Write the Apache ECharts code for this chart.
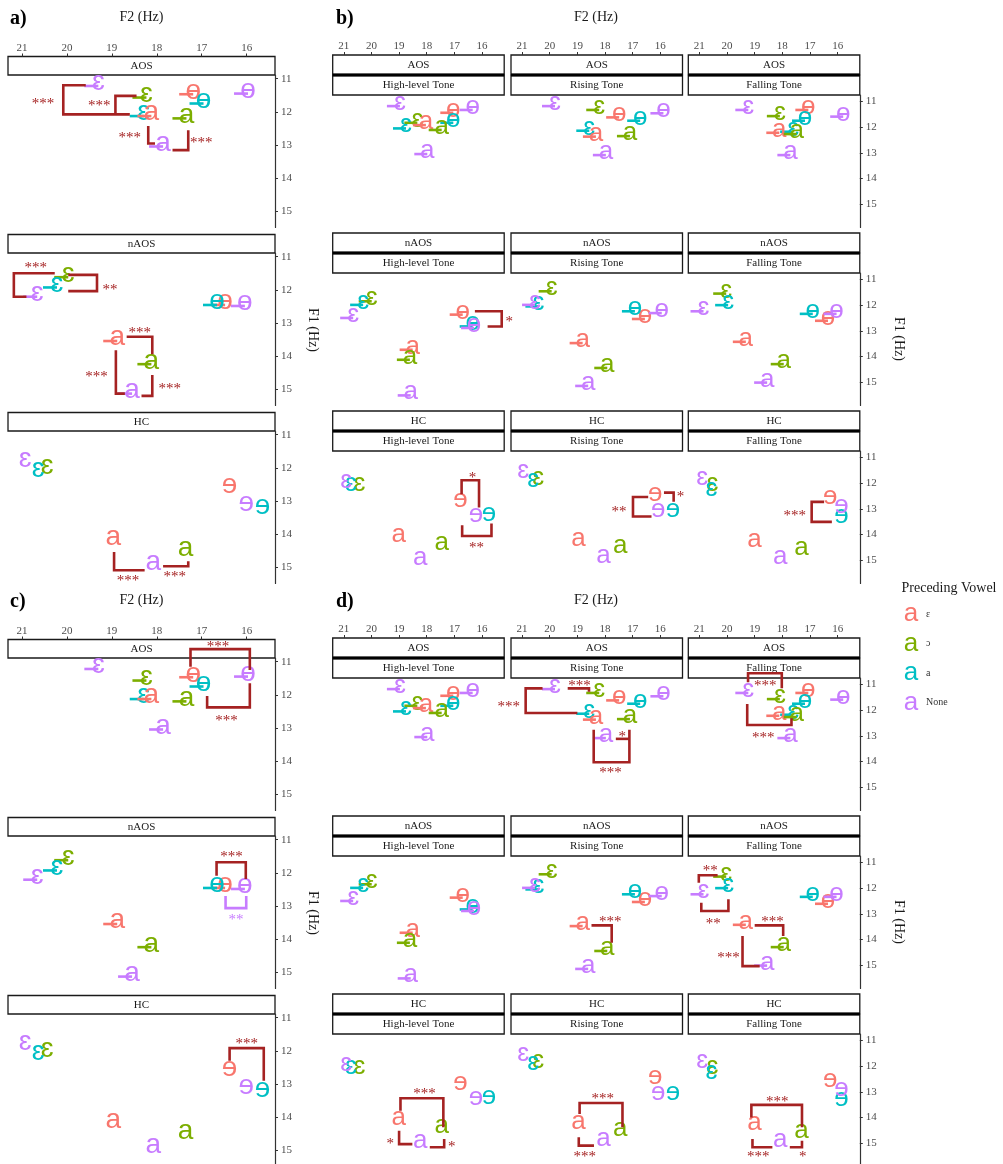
<!DOCTYPE html>
<html><head><meta charset="utf-8">
<script src="https://cdn.jsdelivr.net/npm/echarts@6/dist/echarts.min.js"></script>
<style>html,body{margin:0;padding:0;background:#fff}#c{width:1003px;height:1164px}</style>
</head><body><div id="c"></div>
<script>
// ---------- categories ----------
const precedingVowels = ['ɛ', 'ɔ', 'a', 'None'];
const precedingColors = ['#F8766D', '#7CAE00', '#00BFC4', '#C77CFF'];
const targetVowels = ['ɛ', 'ɵ', 'a'];          // AOS / nAOS labels
const targetVowelsHC = ['ɛ', 'ɘ', 'a'];        // HC labels
const groups = ['AOS', 'nAOS', 'HC'];
const tones = ['High-level Tone', 'Rising Tone', 'Falling Tone'];
// point order: target vowel index / preceding vowel index
const pointTarget = [0, 0, 0, 1, 1, 1, 2, 2, 2];
const pointPreceding = [1, 2, 3, 0, 2, 3, 0, 1, 3];
const f2Ticks = [16, 17, 18, 19, 20, 21];
const f1Ticks = [11, 12, 13, 14, 15];

// ---------- pooled means (panels a, c) ----------
const pooledAOS_F2  = [18.23, 18.29, 19.30, 17.19, 16.96, 15.97, 18.12, 17.34, 17.86];
const pooledAOS_F1  = [11.57, 12.13, 11.22, 11.47, 11.75, 11.45, 12.13, 12.20, 13.05];
const pooledNAOS_F2 = [19.97, 20.22, 20.66, 16.48, 16.66, 16.04, 18.88, 18.12, 18.55];
const pooledNAOS_F1 = [11.62, 11.93, 12.21, 12.46, 12.46, 12.49, 13.55, 14.25, 15.14];
const pooledHC_F2   = [20.44, 20.64, 20.93, 16.38, 15.65, 16.01, 18.97, 17.36, 18.08];
const pooledHC_F1   = [12.06, 12.15, 11.86, 12.62, 13.28, 13.18, 14.21, 14.55, 14.95];

// ---------- by tone (panels b, d) ----------
const aosHigh_F2     = [18.34, 18.75, 18.97, 17.04, 17.04, 16.34, 18.03, 17.46, 17.98];
const aosHigh_F1     = [11.83, 12.05, 11.18, 11.44, 11.83, 11.33, 11.92, 12.11, 13.05];
const aosRising_F2   = [18.21, 18.57, 19.81, 17.49, 16.73, 15.89, 18.33, 17.10, 17.97];
const aosRising_F1   = [11.33, 12.14, 11.18, 11.62, 11.75, 11.46, 12.37, 12.35, 13.09];
const aosFalling_F2  = [18.09, 17.61, 19.23, 17.06, 17.18, 15.80, 18.11, 17.48, 17.71];
const aosFalling_F1  = [11.57, 12.18, 11.33, 11.33, 11.75, 11.59, 12.22, 12.27, 13.09];
const naosHigh_F2    = [19.99, 20.30, 20.66, 16.70, 16.34, 16.29, 18.51, 18.61, 18.58];
const naosHigh_F1    = [11.85, 11.99, 12.50, 12.37, 12.83, 12.89, 13.74, 14.13, 15.52];
const naosRising_F2  = [19.93, 20.41, 20.53, 16.56, 16.92, 15.95, 18.81, 17.92, 18.61];
const naosRising_F1  = [11.46, 12.05, 11.99, 12.54, 12.24, 12.31, 13.48, 14.45, 15.15];
const naosFalling_F2 = [20.03, 19.96, 20.85, 16.35, 16.90, 16.04, 19.32, 17.95, 18.55];
const naosFalling_F1 = [11.55, 12.00, 12.24, 12.61, 12.34, 12.34, 13.43, 14.30, 15.02];
const hcHigh_F2      = [20.43, 20.74, 20.91, 16.78, 15.75, 16.22, 19.01, 17.46, 18.24];
const hcHigh_F1      = [12.14, 12.14, 12.04, 12.76, 13.30, 13.34, 14.12, 14.45, 15.03];
const hcRising_F2    = [20.42, 20.60, 20.96, 16.19, 15.54, 16.08, 18.96, 17.45, 18.06];
const hcRising_F1    = [11.92, 11.98, 11.65, 12.52, 13.15, 13.18, 14.29, 14.57, 14.96];
const hcFalling_F2   = [20.53, 20.56, 20.90, 16.27, 15.86, 15.86, 19.01, 17.31, 18.08];
const hcFalling_F1   = [12.14, 12.35, 11.92, 12.66, 13.41, 13.02, 14.35, 14.65, 15.00];

// ---------- significance brackets (data units) ----------
const BR = '#A52222', PU = '#C77CFF';
const bracketsA = [
  {r:0,c:0,pts:[[19.58,11.20],[20.08,11.20],[20.08,12.08],[18.6,12.08]],t:'***',at:[20.53,11.65]},
  {r:0,c:0,pts:[[18.45,11.52],[18.92,11.52],[18.92,12.08]],t:'***',at:[19.28,11.73]},
  {r:0,c:0,pts:[[18.19,12.43],[18.19,12.96],[18.04,12.96]],t:'***',at:[18.6,12.68]},
  {r:0,c:0,pts:[[17.30,12.56],[17.30,13.16],[17.65,13.16]],t:'***',at:[17.01,12.83]},
  {r:1,c:0,pts:[[20.27,11.50],[21.18,11.50],[21.18,12.21],[20.9,12.21]],t:'***',at:[20.69,11.25]},
  {r:1,c:0,pts:[[19.97,11.55],[19.33,11.55],[19.33,12.04],[19.97,12.04]],t:'**',at:[19.04,11.89]},
  {r:1,c:0,pts:[[18.67,13.42],[18.10,13.42],[18.10,13.95]],t:'***',at:[18.38,13.19]},
  {r:1,c:0,pts:[[18.91,13.83],[18.91,15.14],[18.71,15.14]],t:'***',at:[19.34,14.52]},
  {r:1,c:0,pts:[[18.10,14.58],[18.10,15.21],[18.34,15.21]],t:'***',at:[17.71,14.89]},
  {r:2,c:0,pts:[[18.95,14.55],[18.95,15.10],[18.27,15.10]],t:'***',at:[18.64,15.31]},
  {r:2,c:0,pts:[[17.86,14.98],[17.30,14.98],[17.30,14.83]],t:'***',at:[17.6,15.20]}
];
const bracketsB = [
  {r:1,c:0,pts:[[16.26,12.24],[15.29,12.24],[15.29,12.83],[15.80,12.83]],t:'*',at:[15.02,12.54]},
  {r:2,c:0,pts:[[16.74,12.43],[16.74,11.89],[16.11,11.89],[16.11,12.95]],t:'*',at:[16.35,11.65]},
  {r:2,c:0,pts:[[16.72,13.64],[16.72,14.06],[15.66,14.06],[15.66,13.57]],t:'**',at:[16.20,14.38]},
  {r:2,c:1,pts:[[15.87,12.37],[15.52,12.37],[15.52,12.73]],t:'*',at:[15.27,12.41]},
  {r:2,c:1,pts:[[16.44,12.54],[16.99,12.54],[16.99,13.30],[16.32,13.30]],t:'**',at:[17.50,12.98]},
  {r:2,c:2,pts:[[16.49,12.73],[16.94,12.73],[16.94,13.51],[16.21,13.51]],t:'***',at:[17.55,13.15]}
];
const bracketsC = [
  {r:0,c:0,pts:[[17.25,11.15],[17.25,10.62],[15.93,10.62],[15.93,11.25]],t:'***',at:[16.64,10.44]},
  {r:0,c:0,pts:[[16.88,12.04],[16.88,12.38],[15.93,12.38],[15.93,11.65]],t:'***',at:[16.45,12.70]},
  {r:1,c:0,pts:[[16.67,12.09],[16.67,11.68],[16.02,11.68],[16.02,12.19]],t:'***',at:[16.34,11.43]},
  {r:1,c:0,pts:[[16.47,12.70],[16.47,13.07],[16.01,13.07],[16.01,12.70]],t:'**',at:[16.24,13.32],col:PU},
  {r:2,c:0,pts:[[16.38,12.30],[16.38,11.92],[15.62,11.92],[15.62,12.91]],t:'***',at:[16.0,11.69]}
];
const bracketsD = [
  {r:0,c:1,pts:[[19.35,11.15],[18.58,11.15],[18.58,11.28]],t:'***',at:[18.92,10.93]},
  {r:0,c:1,pts:[[20.26,11.15],[20.87,11.15],[20.87,12.11],[19.0,12.11]],t:'***',at:[21.48,11.76]},
  {r:0,c:1,pts:[[18.41,12.76],[18.41,14.03],[17.12,14.03],[17.12,12.76]],t:'***',at:[17.80,14.32]},
  {r:0,c:1,pts:[[17.61,13.12],[17.12,13.12]],t:'*',at:[17.38,12.9]},
  {r:0,c:2,pts:[[19.24,10.91],[19.24,10.56],[18.02,10.56],[18.02,11.15]],t:'***',at:[18.62,10.91]},
  {r:0,c:2,pts:[[19.27,11.76],[19.27,12.58],[17.67,12.58],[17.67,12.32]],t:'***',at:[18.69,12.96]},
  {r:1,c:1,pts:[[18.49,13.45],[17.76,13.45],[17.76,14.13]],t:'***',at:[17.81,13.18]},
  {r:1,c:2,pts:[[20.34,11.50],[21.02,11.50],[21.02,11.79]],t:'**',at:[20.61,11.20]},
  {r:1,c:2,pts:[[20.93,12.57],[20.93,12.89],[19.95,12.89],[19.95,12.43]],t:'**',at:[20.5,13.28]},
  {r:1,c:2,pts:[[19.0,13.45],[17.97,13.45],[17.97,13.87]],t:'***',at:[18.36,13.2]},
  {r:1,c:2,pts:[[19.44,13.87],[19.44,15.04],[18.82,15.04]],t:'***',at:[19.95,14.58]},
  {r:2,c:0,pts:[[18.95,13.74],[18.95,13.25],[17.40,13.25],[17.40,14.38]],t:'***',at:[18.08,12.96]},
  {r:2,c:0,pts:[[19.0,14.52],[19.0,15.04],[18.52,15.04]],t:'*',at:[19.32,14.91]},
  {r:2,c:0,pts:[[17.89,15.16],[17.37,15.16],[17.37,14.84]],t:'*',at:[17.1,15.0]},
  {r:2,c:1,pts:[[18.92,13.87],[18.92,13.44],[17.37,13.44],[17.37,14.38]],t:'***',at:[18.08,13.15]},
  {r:2,c:1,pts:[[18.95,14.77],[18.95,15.10],[18.40,15.10]],t:'***',at:[18.73,15.42]},
  {r:2,c:2,pts:[[19.12,14.0],[19.12,13.51],[17.29,13.51],[17.29,14.38]],t:'***',at:[18.18,13.25]},
  {r:2,c:2,pts:[[19.08,14.84],[19.08,15.16],[18.36,15.16]],t:'***',at:[18.87,15.42]},
  {r:2,c:2,pts:[[17.73,15.16],[17.29,15.16],[17.29,14.91]],t:'*',at:[17.26,15.42]}
];

// ---------- assemble ----------
const pooledData = [[pooledAOS_F2, pooledAOS_F1], [pooledNAOS_F2, pooledNAOS_F1], [pooledHC_F2, pooledHC_F1]];
const toneData = [
  [[aosHigh_F2, aosHigh_F1], [aosRising_F2, aosRising_F1], [aosFalling_F2, aosFalling_F1]],
  [[naosHigh_F2, naosHigh_F1], [naosRising_F2, naosRising_F1], [naosFalling_F2, naosFalling_F1]],
  [[hcHigh_F2, hcHigh_F1], [hcRising_F2, hcRising_F1], [hcFalling_F2, hcFalling_F1]]
];
const panels = [
  {tag:'a)', pooled:true, off:0, br:bracketsA, tagX:10, titleX:141.5},
  {tag:'b)', pooled:false, off:0, br:bracketsB, tagX:336, titleX:596},
  {tag:'c)', pooled:true, off:583, br:bracketsC, tagX:10, titleX:141.5},
  {tag:'d)', pooled:false, off:583, br:bracketsD, tagX:336, titleX:596}
];

const SERIF = '"Liberation Serif", "DejaVu Serif", serif';
const SANS = '"Liberation Sans", "DejaVu Sans", "Noto Sans", sans-serif';
const grids = [], xAxes = [], yAxes = [], series = [], graphics = [];

function pointRenderer(isHC, fs) {
  return function (params, api) {
    const p = api.coord([api.value(0), api.value(1)]);
    const color = precedingColors[api.value(3)];
    const glyph = (isHC ? targetVowelsHC : targetVowels)[api.value(2)];
    const ch = [];
    if (!isHC) ch.push({type:'line', shape:{x1:p[0]-fs*0.5, y1:p[1], x2:p[0], y2:p[1]}, style:{stroke:color, lineWidth:2.6}});
    ch.push({type:'text', x:p[0], y:p[1]-fs*0.12, style:{text:glyph, fill:color, font:fs + 'px ' + SANS, align:'center', verticalAlign:'middle'}});
    return {type:'group', children:ch};
  };
}
function bracketRenderer(list) {
  return function (params, api) {
    const b = list[params.dataIndex];
    const pts = b.pts.map(q => api.coord(q));
    const lp = api.coord(b.at);
    const col = b.col || BR;
    return {type:'group', children:[
      {type:'polyline', shape:{points:pts}, style:{stroke:col, lineWidth:2.6, fill:null, lineJoin:'miter'}},
      {type:'text', x:lp[0], y:lp[1]+3.5, style:{text:b.t, fill:col, font:'15px ' + SERIF, align:'center', verticalAlign:'middle'}}
    ]};
  };
}

panels.forEach(pn => {
  const ncol = pn.pooled ? 1 : 3;
  graphics.push({type:'text', x:pn.tagX, y:pn.off + 19, style:{text:pn.tag, font:'bold 20px ' + SERIF, fill:'#000', verticalAlign:'middle'}});
  graphics.push({type:'text', x:pn.titleX, y:pn.off + 17, style:{text:'F2 (Hz)', font:'14px ' + SERIF, fill:'#1a1a1a', align:'center', verticalAlign:'middle'}});
  graphics.push({type:'text', x:pn.pooled ? 313 : 899, y:pn.off + (pn.pooled ? 330 : 339), rotation:-Math.PI/2,
    style:{text:'F1 (Hz)', font:'14px ' + SERIF, fill:'#1a1a1a', align:'center', verticalAlign:'middle'}});
  for (let r = 0; r < 3; r++) {
    for (let c = 0; c < ncol; c++) {
      const idx = grids.length;
      const bottom = 227.5 + 178 * r + pn.off;
      let left, width, height, stripH, xr, yr;
      if (pn.pooled) { left = 8; width = 267; height = 152.5; stripH = 18.5; xr = [15.37, 21.31]; yr = [10.888, 15.50]; }
      else { left = [332.7, 511, 688.3][c]; width = 171.5; height = 132.5; stripH = 40; xr = [15.2, 21.4]; yr = [10.747, 15.913]; }
      const top = bottom - height;
      grids.push({left:left, top:top, width:width, height:height, containLabel:false, outerBoundsMode:'none'});
      const showX = r === 0;
      xAxes.push({type:'value', gridIndex:idx, position:'top', inverse:true, min:xr[0], max:xr[1], offset:stripH,
        axisLine:{show:false}, splitLine:{show:false},
        axisTick:{show:showX, length:3, customValues:f2Ticks, lineStyle:{color:'#333', width:1}},
        axisLabel:{show:showX, customValues:f2Ticks, margin:3, color:'#4d4d4d', fontSize:11, fontFamily:'Liberation Serif', formatter:v => String(v)}});
      const showY = pn.pooled || c === 2;
      yAxes.push({type:'value', gridIndex:idx, position:'right', inverse:true, min:yr[0], max:yr[1],
        axisLine:{show:showY, onZero:false, lineStyle:{color:'#333', width:1.2}}, splitLine:{show:false},
        axisTick:{show:showY, length:3, customValues:f1Ticks, lineStyle:{color:'#333', width:1}},
        axisLabel:{show:showY, customValues:f1Ticks, margin:6, color:'#4d4d4d', fontSize:11, fontFamily:'Liberation Serif', formatter:v => String(v)}});
      // strips
      if (pn.pooled) {
        graphics.push({type:'rect', shape:{x:left, y:top - stripH, width:width, height:stripH}, style:{fill:'#fff', stroke:'#1a1a1a', lineWidth:1.3}});
        graphics.push({type:'text', x:left + width/2, y:top - stripH/2, style:{text:groups[r], font:'11px ' + SERIF, fill:'#1a1a1a', align:'center', verticalAlign:'middle'}});
      } else {
        graphics.push({type:'rect', shape:{x:left, y:top - 40, width:width, height:19.5}, style:{fill:'#fff', stroke:'#1a1a1a', lineWidth:1.3}});
        graphics.push({type:'rect', shape:{x:left, y:top - 19.5, width:width, height:19.5}, style:{fill:'#fff', stroke:'#1a1a1a', lineWidth:1.3}});
        graphics.push({type:'rect', shape:{x:left, y:top - 21.5, width:width, height:3}, style:{fill:'#000'}});
        graphics.push({type:'text', x:left + width/2, y:top - 30, style:{text:groups[r], font:'11px ' + SERIF, fill:'#1a1a1a', align:'center', verticalAlign:'middle'}});
        graphics.push({type:'text', x:left + width/2, y:top - 9.5, style:{text:tones[c], font:'11px ' + SERIF, fill:'#1a1a1a', align:'center', verticalAlign:'middle'}});
      }
      // points
      const src = pn.pooled ? pooledData[r] : toneData[r][c];
      const data = src[0].map((f2, i) => [f2, src[1][i], pointTarget[i], pointPreceding[i]]);
      series.push({type:'custom', xAxisIndex:idx, yAxisIndex:idx, clip:false, z:3, data:data, renderItem:pointRenderer(r === 2, pn.pooled ? 28 : 26), silent:true});
      const list = pn.br.filter(b => b.r === r && b.c === c);
      if (list.length) {
        series.push({type:'custom', xAxisIndex:idx, yAxisIndex:idx, clip:false, z:4, data:list.map(b => [b.at[0], b.at[1]]), renderItem:bracketRenderer(list), silent:true});
      }
    }
  }
});

// legend
graphics.push({type:'text', x:949, y:588, style:{text:'Preceding Vowel', font:'14px ' + SERIF, fill:'#1a1a1a', align:'center', verticalAlign:'middle'}});
precedingVowels.forEach((v, i) => {
  const y = 617 + i * 29.6;
  graphics.push({type:'text', x:911, y:y - 3, style:{text:'a', font:'26px ' + SANS, fill:precedingColors[i], align:'center', verticalAlign:'middle'}});
  graphics.push({type:'text', x:926, y:y - 3, style:{text:v, font:'10px ' + SERIF, fill:'#333', verticalAlign:'middle'}});
});

const chart = echarts.init(document.getElementById('c'), null, {renderer:'canvas'});
chart.setOption({animation:false, backgroundColor:'#fff', grid:grids, xAxis:xAxes, yAxis:yAxes, series:series, graphic:{elements:graphics}});
</script></body></html>
